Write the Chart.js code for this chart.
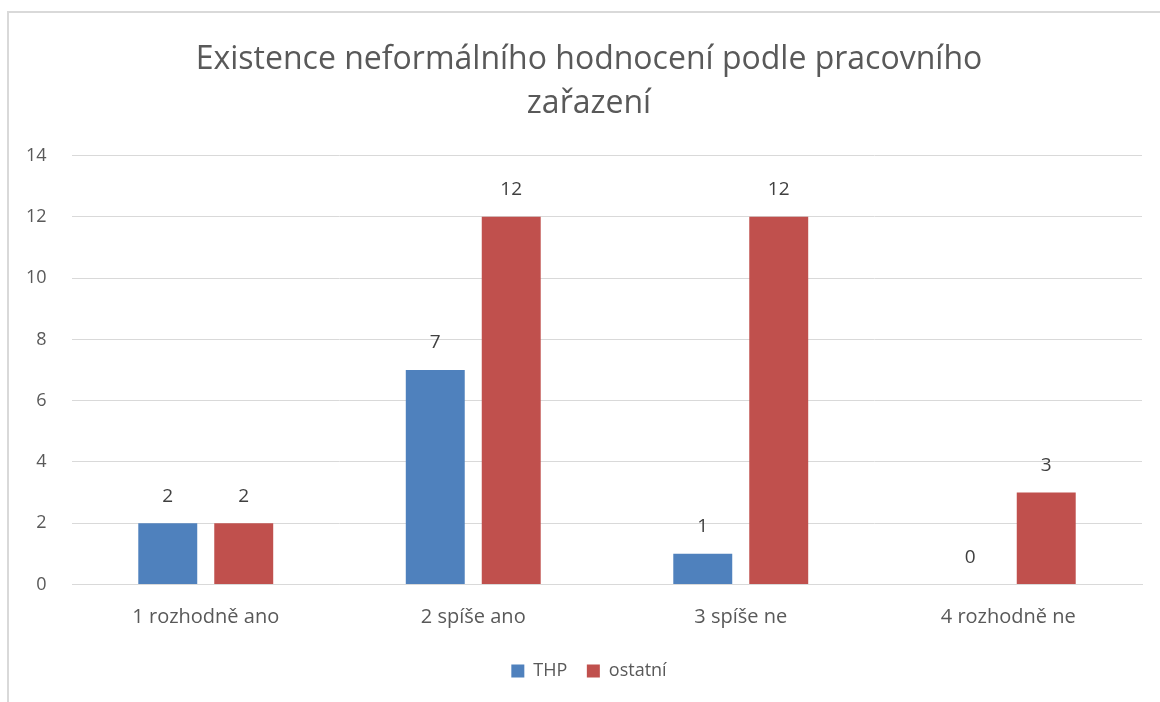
<!DOCTYPE html>
<html>
<head>
<meta charset="utf-8">
<script src="https://cdn.jsdelivr.net/npm/chart.js@4"></script>
<style>
    body { margin: 0; background: #fff; overflow: hidden; }
    #frame {
        position: absolute;
        left: 7px;
        top: 11px;
        width: 1200px;
        height: 720px;
        border: 2px solid #d9d9d9;
    }
</style>
</head>
<body>
<div id="frame">
    <canvas id="chart" width="1160" height="689"></canvas>
</div>
<script>
/* Data */
const categories = ['1 rozhodně ano', '2 spíše ano', '3 spíše ne', '4 rozhodně ne']
const thpValues = [2, 7, 1, 0]
const ostatniValues = [2, 12, 12, 3]
const seriesNames = ['THP', 'ostatní']
const titleLines = ['Existence neformálního hodnocení podle pracovního', 'zařazení']

const fontName = "'Open Sans', sans-serif"

/* Value labels above bars */
const barLabels = {
    id: 'barLabels',
    afterDatasetsDraw(chart) {
        const ctx = chart.ctx
        ctx.save()
        ctx.font = '19px ' + fontName
        ctx.fillStyle = '#404040'
        ctx.textAlign = 'center'
        ctx.textBaseline = 'middle'
        chart.data.datasets.forEach((ds, i) => {
            const meta = chart.getDatasetMeta(i)
            meta.data.forEach((bar, j) => {
                ctx.fillText(ds.data[j], bar.x, bar.y - 27)
            })
        })
        ctx.restore()
    }
}

const myChart = document.getElementById('chart').getContext('2d')

new Chart(myChart, {
    type: 'bar',
    data: {
        labels: categories,
        datasets: [
            {
                label: seriesNames[0],
                data: thpValues,
                backgroundColor: '#4f81bd',
                borderWidth: 0,
                categoryPercentage: 0.568,
                barPercentage: 0.776
            },
            {
                label: seriesNames[1],
                data: ostatniValues,
                backgroundColor: '#c0504d',
                borderWidth: 0,
                categoryPercentage: 0.568,
                barPercentage: 0.776
            }
        ]
    },
    options: {
        responsive: false,
        animation: false,
        layout: {
            padding: { left: 27, right: 27, top: 24, bottom: 12 }
        },
        plugins: {
            title: {
                display: true,
                text: titleLines,
                color: '#595959',
                font: { family: fontName, size: 32, weight: 'normal', lineHeight: 1.4 },
                padding: { top: 0, bottom: 29 }
            },
            legend: {
                position: 'bottom',
                labels: {
                    color: '#595959',
                    font: { family: fontName, size: 18 },
                    boxWidth: 13,
                    boxHeight: 13,
                    padding: 19.5
                }
            },
            tooltip: { enabled: false }
        },
        scales: {
            x: {
                grid: { display: false },
                border: { display: true, color: '#d9d9d9', width: 1 },
                ticks: {
                    color: '#595959',
                    font: { family: fontName, size: 20 },
                    padding: 13
                }
            },
            y: {
                min: 0,
                max: 14,
                ticks: {
                    stepSize: 2,
                    color: '#595959',
                    font: { family: fontName, size: 18 },
                    // mirrored so the labels can sit left of the axis box
                    mirror: true,
                    crossAlign: 'far',
                    padding: -46
                },
                grid: { color: '#d9d9d9', drawTicks: false },
                border: { display: false },
                afterFit: (scale) => { scale.width = 36 }
            }
        }
    },
    plugins: [barLabels]
})
</script>
</body>
</html>
